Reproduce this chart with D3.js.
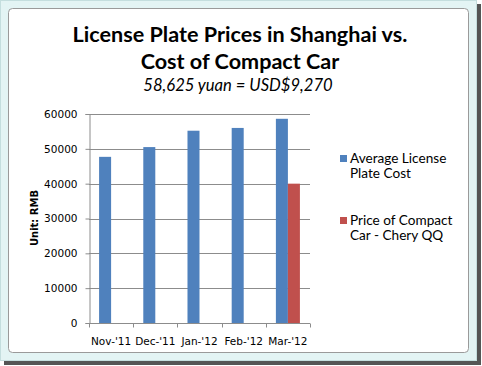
<!DOCTYPE html>
<html>
<head>
<meta charset="utf-8">
<script src="https://cdn.jsdelivr.net/npm/d3@7/dist/d3.min.js"></script>
<style>
  body { margin: 0; background: #fff; }
</style>
</head>
<body>
<div id="canvas"></div>
<script>
// months along the x axis
const months = ["Nov-'11", "Dec-'11", "Jan-'12", "Feb-'12", "Mar-'12"];
// average license plate cost per month (RMB)
const plateCost = [47700, 50500, 55200, 56000, 58625];
// price of the compact car, only shown for the last month
const carPrice = [null, null, null, null, 40000];
const yTicks = [0, 10000, 20000, 30000, 40000, 50000, 60000];

const W = 482, H = 366;
const margin = {top: 114, right: 172, bottom: 43, left: 89},
    width = W - margin.left - margin.right,
    height = H - margin.top - margin.bottom;

const colors = ["#4f81bd", "#c0504d"];

const svg = d3.select("#canvas")
    .append("svg")
    .attr("width", W)
    .attr("height", H);

// frame round the chart, like an embedded office object
svg.append("rect").attr("x", 477).attr("y", 4).attr("width", 4).attr("height", 361).attr("fill", "#555");
svg.append("rect").attr("x", 4).attr("y", 361).attr("width", 477).attr("height", 4).attr("fill", "#555");
svg.append("rect")
    .attr("x", 0.5).attr("y", 0.5).attr("width", 476).attr("height", 360)
    .attr("fill", "#e3f4f4").attr("stroke", "#c4dede");
svg.append("rect")
    .attr("x", 8.5).attr("y", 8.5).attr("width", 460).attr("height", 344)
    .attr("rx", 4)
    .attr("fill", "#fff").attr("stroke", "#9a9a9a");

const g = svg.append("g")
    .attr("transform", "translate(" + margin.left + "," + margin.top + ")");

// titles
svg.append("text")
    .attr("x", 240).attr("y", 42)
    .attr("text-anchor", "middle")
    .style("font-family", "Lato, sans-serif")
    .style("font-weight", "bold")
    .style("font-size", "21.6px")
    .text("License Plate Prices in Shanghai vs.");
svg.append("text")
    .attr("x", 240).attr("y", 69)
    .attr("text-anchor", "middle")
    .style("font-family", "Lato, sans-serif")
    .style("font-weight", "bold")
    .style("font-size", "21.6px")
    .text("Cost of Compact Car");
svg.append("text")
    .attr("x", 238).attr("y", 91)
    .attr("text-anchor", "middle")
    .style("font-family", "Lato, sans-serif")
    .style("font-style", "italic")
    .style("font-size", "16.6px")
    .text("58,625 yuan = USD$9,270");

// scales
const x = d3.scaleBand()
    .domain(months)
    .range([0, width])
    .paddingInner(0)
    .paddingOuter(0);

const x1 = d3.scaleBand()
    .domain([0, 1])
    .range([0, x.bandwidth()])
    .paddingInner(0)
    .paddingOuter(0.84);

const y = d3.scaleLinear()
    .domain([0, 60000])
    .range([height, 0]);

// gridlines
g.append("g")
    .selectAll("line")
    .data(yTicks.slice(1))
    .enter()
    .append("line")
    .attr("x1", 0).attr("x2", width)
    .attr("y1", d => Math.round(y(d)) + 0.5)
    .attr("y2", d => Math.round(y(d)) + 0.5)
    .style("stroke", "#8c8c8c");

// bars
const rows = months.map((m, i) => ({month: m, values: [plateCost[i], carPrice[i]]}));
const groups = g.selectAll(".grp")
    .data(rows)
    .enter()
    .append("g")
    .attr("transform", d => "translate(" + x(d.month) + ",0)");
groups.selectAll("rect")
    .data(d => d.values.map((v, k) => ({k: k, v: v})).filter(e => e.v != null))
    .enter()
    .append("rect")
    .attr("x", d => x1(d.k))
    .attr("width", x1.bandwidth())
    .attr("y", d => y(d.v))
    .attr("height", d => height - y(d.v))
    .style("fill", d => colors[d.k]);

// axes
const yAxis = g.append("g")
    .attr("transform", "translate(0.5,0)")
    .call(d3.axisLeft(y).tickValues(yTicks).tickFormat(d3.format("d")).tickSize(4).tickPadding(8));
const xAxis = g.append("g")
    .attr("transform", "translate(0," + (Math.round(height) + 0.5) + ")")
    .call(d3.axisBottom(x).tickSize(0).tickPadding(14));
// category boundary ticks
xAxis.selectAll(".bound")
    .data(d3.range(months.length + 1))
    .enter()
    .append("line")
    .attr("x1", i => Math.round(i * x.bandwidth()) + 0.5)
    .attr("x2", i => Math.round(i * x.bandwidth()) + 0.5)
    .attr("y1", 0).attr("y2", 4)
    .style("stroke", "#8c8c8c");

[yAxis, xAxis].forEach(a => {
    a.select(".domain").style("stroke", "#8c8c8c");
    a.selectAll(".tick line").style("stroke", "#8c8c8c");
    a.selectAll("text")
        .style("font-family", "'DejaVu Sans', sans-serif")
        .style("font-size", "10.5px")
        .style("fill", "#000");
});
xAxis.select(".domain").attr("d", "M0,0H" + width);

// y axis title
svg.append("text")
    .attr("transform", "translate(38," + 218 + ") rotate(-90)")
    .attr("text-anchor", "middle")
    .style("font-family", "'DejaVu Sans', sans-serif")
    .style("font-weight", "bold")
    .style("font-size", "10px")
    .text("Unit: RMB");

// legend
const legendLines = [["Average License", "Plate Cost"], ["Price of Compact", "Car - Chery QQ"]];
const legend = svg.append("g").attr("transform", "translate(340,155)");
legendLines.forEach((lines, i) => {
    const lg = legend.append("g").attr("transform", "translate(0," + (i * 62) + ")");
    lg.append("rect")
        .attr("width", 7).attr("height", 7)
        .style("fill", colors[i]);
    lines.forEach((t, j) => {
        lg.append("text")
            .attr("x", 10).attr("y", 8 + j * 15)
            .style("font-family", "Lato, sans-serif")
            .style("font-size", "13.6px")
            .text(t);
    });
});
</script>
</body>
</html>
